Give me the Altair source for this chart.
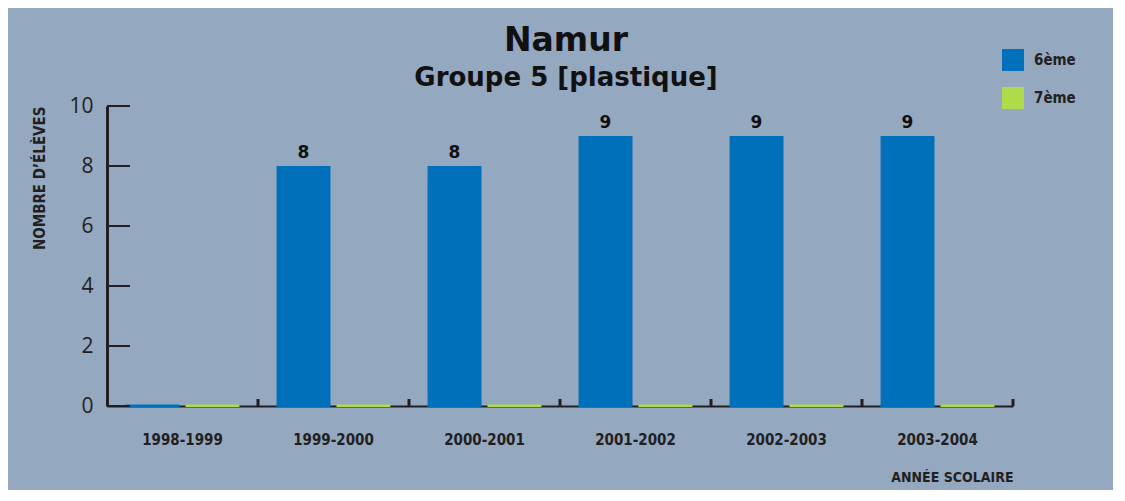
import altair as alt
import pandas as pd

years = ["1998-1999", "1999-2000", "2000-2001", "2001-2002", "2002-2003", "2003-2004"]
sixieme = [0, 8, 8, 9, 9, 9]
septieme = [0, 0, 0, 0, 0, 0]
series_names = ["6ème", "7ème"]
series_colors = ["#0070bb", "#addb4a"]
y_ticks = [0, 2, 4, 6, 8, 10]

rows = []
for y, a, b in zip(years, sixieme, septieme):
    rows.append({"year": y, "series": series_names[0], "value": a})
    rows.append({"year": y, "series": series_names[1], "value": b})
df = pd.DataFrame(rows)
ticks_df = pd.DataFrame({"t": y_ticks})
years_df = pd.DataFrame({"year": years})

INK = "#231f20"
NARROW = "Liberation Sans Narrow, DejaVu Sans Condensed, Roboto, sans-serif"

x_scale = alt.Scale(domain=years, paddingInner=0, paddingOuter=0)
off_scale = alt.Scale(domain=series_names, paddingInner=0.1, paddingOuter=0.31)
y_scale = alt.Scale(domain=[0, 10], nice=False)
color_scale = alt.Scale(domain=series_names, range=series_colors)

x_enc = alt.X(
    "year:N", scale=x_scale, sort=years,
    axis=alt.Axis(
        title="ANNÉE SCOLAIRE", titleAnchor="end", titleFont=NARROW, titleFontSize=14,
        titleFontWeight="bold", titleColor=INK, titlePadding=23,
        labelFont=NARROW, labelFontSize=15, labelFontWeight="bold", labelColor=INK,
        labelPadding=26, labelAngle=0, ticks=False,
        domainColor=INK, domainWidth=2, zindex=0,
    ),
)
y_enc = alt.Y(
    "value:Q", scale=y_scale,
    axis=alt.Axis(
        title="NOMBRE D’ÉLÈVES", titleAnchor="end", titleFont=NARROW, titleFontSize=15,
        titleFontWeight="bold", titleColor=INK, titleX=-60,
        values=y_ticks, grid=False, ticks=False,
        labelFont="Open Sans", labelFontSize=21, labelColor=INK, labelPadding=14,
        domainColor=INK, domainWidth=3, zindex=0,
    ),
)

bars = alt.Chart(df).mark_bar().encode(
    x=x_enc,
    xOffset=alt.XOffset("series:N", scale=off_scale, sort=series_names),
    y=y_enc,
    color=alt.Color(
        "series:N", scale=color_scale, sort=series_names,
        legend=alt.Legend(
            title=None, orient="none", legendX=895, legendY=-57, padding=0,
            symbolType="square", symbolSize=484, symbolStrokeWidth=0, symbolOpacity=1,
            labelFont=NARROW, labelFontSize=15, labelFontWeight="bold", labelColor=INK,
            labelOffset=10, rowPadding=16,
        ),
    ),
)

base_lines = alt.Chart(df).mark_bar().encode(
    x=alt.X("year:N", scale=x_scale, sort=years),
    xOffset=alt.XOffset("series:N", scale=off_scale, sort=series_names),
    y=alt.value(298.5),
    y2=alt.value(301),
    color=alt.Color("series:N", scale=color_scale, sort=series_names),
)

labels = alt.Chart(df).transform_filter(
    "datum.value > 0 && datum.series == '6ème'"
).mark_text(dy=-8, baseline="alphabetic", font="DejaVu Sans", fontWeight="bold",
            fontSize=17, color="#111111").encode(
    x=alt.X("year:N", scale=x_scale, sort=years),
    xOffset=alt.XOffset("series:N", scale=off_scale, sort=series_names),
    y=alt.Y("value:Q", scale=y_scale),
    text=alt.Text("value:Q"),
)

y_tick_marks = alt.Chart(ticks_df).mark_rule(color=INK, strokeWidth=2).encode(
    y=alt.Y("t:Q", scale=y_scale),
    x=alt.value(0),
    x2=alt.value(23),
)

group_ticks = alt.Chart(years_df).mark_rule(color=INK, strokeWidth=3).encode(
    x=alt.X("year:N", scale=x_scale, sort=years, bandPosition=1),
    y=alt.value(293),
    y2=alt.value(300),
)

chart = alt.layer(bars, base_lines, labels, y_tick_marks, group_ticks).properties(
    width=906,
    height=300,
    padding={"left": 99, "top": 98, "right": 100, "bottom": 84},
    autosize=alt.AutoSizeParams(type="none"),
    background="#94a8c0",
    title=alt.TitleParams(
        text="Namur", subtitle="Groupe 5 [plastique]",
        font="DejaVu Sans", fontSize=33, fontWeight="bold", color="#111111",
        subtitleFont="DejaVu Sans", subtitleFontSize=26, subtitleFontWeight="bold",
        subtitleColor="#111111", subtitlePadding=7, anchor="middle", dx=6, dy=54,
        offset=12, frame="group",
    ),
).configure_view(stroke=None)

chart.save("out.html", embed_options={"renderer": "svg", "actions": False})
